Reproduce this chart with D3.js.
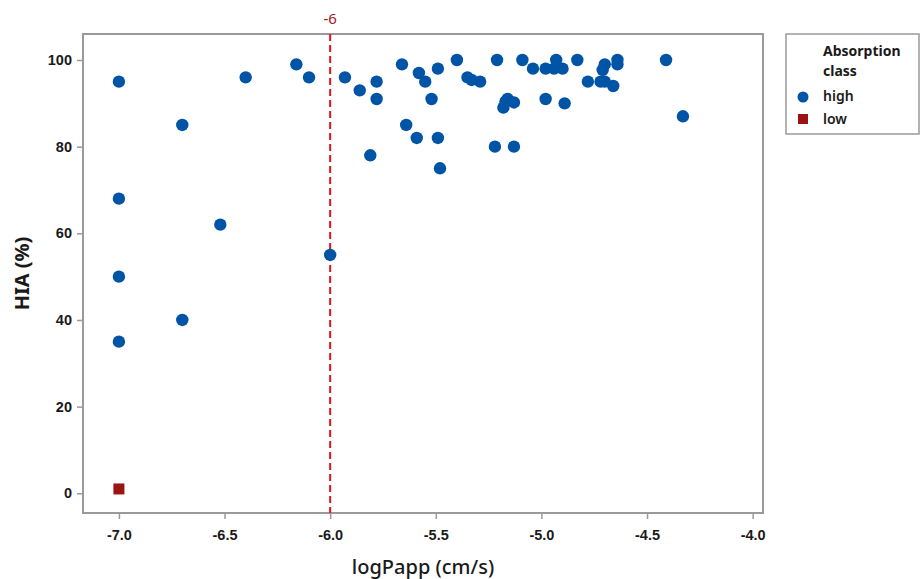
<!DOCTYPE html>
<html>
<head>
<meta charset="utf-8">
<script src="https://cdn.jsdelivr.net/npm/d3@7"></script>
<style>
  body { margin: 0; background: #fff; }
  svg { font-family: "Noto Sans", "Open Sans", sans-serif; }
</style>
</head>
<body>
<div id="chart"></div>
<script>
// values
var highX = [-7.0, -7.0, -7.0, -7.0, -6.7, -6.7, -6.52, -6.40, -6.16, -6.10,
  -6.0, -5.93, -5.86, -5.81, -5.78, -5.78, -5.66, -5.64, -5.59, -5.58,
  -5.55, -5.52, -5.49, -5.49, -5.48, -5.40, -5.35, -5.33, -5.29, -5.22,
  -5.21, -5.18, -5.17, -5.16, -5.13, -5.13, -5.09, -5.04, -4.98, -4.98,
  -4.94, -4.93, -4.90, -4.89, -4.83, -4.78, -4.72, -4.70, -4.71, -4.70,
  -4.66, -4.64, -4.64, -4.41, -4.33];
var highY = [95, 68, 50, 35, 85, 40, 62, 96, 99, 96,
  55, 96, 93, 78, 95, 91, 99, 85, 82, 97,
  95, 91, 98, 82, 75, 100, 96, 95.4, 95, 80,
  100, 89, 90.4, 91, 90.2, 80, 100, 98, 98, 91,
  98, 100, 98, 90, 100, 95, 95, 95, 97.7, 99,
  94, 100, 99, 100, 87];
var lowX = [-7.0];
var lowY = [1];
var xTicks = [-7.0, -6.5, -6.0, -5.5, -5.0, -4.5, -4.0];
var yTicks = [0, 20, 40, 60, 80, 100];
var cutoff = -6;

var svgWidth = 922, svgHeight = 579;
var margin = { top: 34, right: 159, bottom: 66, left: 83 };
var width = svgWidth - margin.left - margin.right;
var height = svgHeight - margin.top - margin.bottom;

var svg = d3.select("#chart").append("svg")
  .attr("width", svgWidth)
  .attr("height", svgHeight);

var g = svg.append("g")
  .attr("transform", `translate(${margin.left}, ${margin.top})`);

var xScale = d3.scaleLinear().domain([-7.17, -3.951]).range([0, width]);
var yScale = d3.scaleLinear().domain([-4.55, 106]).range([height, 0]);

// axes
var xAxis = d3.axisBottom(xScale).tickValues(xTicks).tickFormat(d3.format(".1f")).tickSize(6).tickSizeOuter(0);
var yAxis = d3.axisLeft(yScale).tickValues(yTicks).tickSize(6).tickSizeOuter(0);

var gx = g.append("g").attr("transform", `translate(0, ${height})`).call(xAxis);
var gy = g.append("g").call(yAxis);

[gx, gy].forEach(function(a) {
  a.select(".domain").remove();
  a.selectAll(".tick line").attr("stroke", "#9a9a9a").attr("stroke-width", 1.5);
  a.selectAll(".tick text")
    .attr("fill", "#1a1a1a")
    .style("font-size", "14.5px")
    .style("font-weight", "600");
});
gx.selectAll(".tick text").attr("dy", "1.25em").text(function(d) { return d3.format(".1f")(d).replace("−", "-"); });
gy.selectAll(".tick text").attr("dx", "-2px").text(function(d) { return d; });

// frame
g.append("rect")
  .attr("width", width)
  .attr("height", height)
  .attr("fill", "none")
  .attr("stroke", "#9a9a9a")
  .attr("stroke-width", 2);

// reference line
g.append("line")
  .attr("x1", xScale(cutoff)).attr("x2", xScale(cutoff))
  .attr("y1", 0).attr("y2", height)
  .attr("stroke", "#e0141e")
  .attr("stroke-width", 2)
  .attr("stroke-dasharray", "7,4");

g.append("text")
  .attr("x", xScale(cutoff))
  .attr("y", -10)
  .attr("text-anchor", "middle")
  .attr("fill", "#a3161c")
  .style("font-size", "15px")
  .text("-6");

// points
g.selectAll("circle.high")
  .data(highX.map(function(x, i) { return { x: x, y: highY[i] }; }))
  .enter()
  .append("circle")
  .attr("class", "high")
  .attr("cx", d => xScale(d.x))
  .attr("cy", d => yScale(d.y))
  .attr("r", 6.2)
  .attr("fill", "#0054a6");

g.selectAll("rect.low")
  .data(lowX.map(function(x, i) { return { x: x, y: lowY[i] }; }))
  .enter()
  .append("rect")
  .attr("class", "low")
  .attr("x", d => xScale(d.x) - 5.5)
  .attr("y", d => yScale(d.y) - 5.5)
  .attr("width", 11)
  .attr("height", 11)
  .attr("fill", "#9b1313");

// axis titles
svg.append("text")
  .attr("x", margin.left + width / 2)
  .attr("y", 574)
  .attr("text-anchor", "middle")
  .attr("fill", "#1a1a1a")
  .style("font-size", "20px")
  .style("font-weight", "500")
  .text("logPapp (cm/s)");

svg.append("text")
  .attr("transform", `translate(29, ${margin.top + height / 2}) rotate(-90)`)
  .attr("text-anchor", "middle")
  .attr("fill", "#1a1a1a")
  .style("font-size", "20px")
  .style("font-weight", "700")
  .text("HIA (%)");

// legend
var leg = svg.append("g").attr("transform", "translate(786, 34)");
leg.append("rect")
  .attr("width", 133)
  .attr("height", 100)
  .attr("fill", "#fff")
  .attr("stroke", "#9a9a9a")
  .attr("stroke-width", 1.5);
leg.append("text").attr("x", 37).attr("y", 22)
  .style("font-size", "14px").style("font-weight", "700").attr("fill", "#1a1a1a")
  .text("Absorption");
leg.append("text").attr("x", 37).attr("y", 42)
  .style("font-size", "14px").style("font-weight", "700").attr("fill", "#1a1a1a")
  .text("class");
leg.append("circle").attr("cx", 17).attr("cy", 63).attr("r", 5.5).attr("fill", "#0054a6");
leg.append("text").attr("x", 37).attr("y", 67)
  .style("font-size", "14px").style("font-weight", "600").attr("fill", "#1a1a1a")
  .text("high");
leg.append("rect").attr("x", 12).attr("y", 80).attr("width", 10).attr("height", 10).attr("fill", "#9b1313");
leg.append("text").attr("x", 37).attr("y", 90)
  .style("font-size", "14px").style("font-weight", "600").attr("fill", "#1a1a1a")
  .text("low");
</script>
</body>
</html>
